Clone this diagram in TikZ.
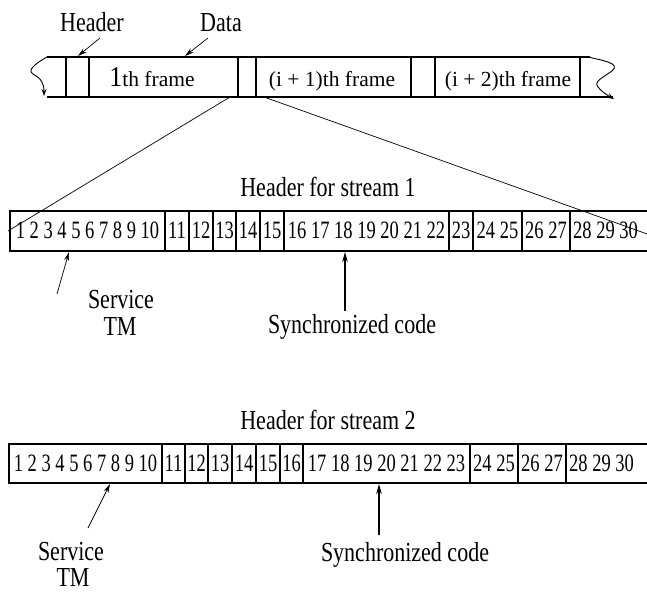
\documentclass[tikz,border=0pt]{standalone}
\usepackage{fontspec}
\setmainfont{Liberation Serif}
\usetikzlibrary{arrows.meta}
\newcommand\vsl[1]{\scalebox{1}[1.25]{#1}}
\newcommand\vsn[1]{\scalebox{1}[1.35]{#1}}
\begin{document}
\begin{tikzpicture}[x=1pt,y=-1pt,
  thick line/.style={line width=1.3pt},
  thin line/.style={line width=0.7pt},
  lbl/.style={font=\fontsize{22}{24}\selectfont, anchor=base, inner sep=0pt},
  num/.style={font=\fontsize{18.5}{20}\selectfont, anchor=base, inner sep=0pt},
  frm/.style={font=\fontsize{21.5}{23}\selectfont, anchor=base, inner sep=0pt},
  arr/.style={thin line, -{Stealth[length=9pt,width=5pt]}},
  arrb/.style={line width=1.1pt, -{Stealth[length=10pt,width=5.5pt]}}]
\clip (0,0) rectangle (647,592);
\useasboundingbox (0,0) rectangle (647,592);

% ---------- top frame strip ----------
\draw[thick line] (47,57) -- (590,57);
\draw[thick line] (47,97) -- (613,97);
\foreach \x in {66,89,238,256,411,435,580} \draw[thick line] (\x,57) -- (\x,97);
\draw[line width=0.9pt, -{Stealth[length=7pt,width=5pt]}] (47,57) .. controls (38,62) and (26,70) .. (33,74) .. controls (42,79) and (44,84) .. (44,96);
\draw[line width=0.9pt, -{Stealth[length=7pt,width=5pt]}] (588,57) .. controls (600,60) and (622,63) .. (612,71) .. controls (600,79) and (594,82) .. (598,87) .. controls (602,92) and (607,95) .. (614,99);

\node[frm] (f1) at (152,86) {{\fontsize{26}{28}\selectfont\scalebox{1}[1.1]{1}}th frame};
\node[frm] (f2) at (332,86) {(i + 1)th frame};
\node[frm] (f3) at (508,86) {(i + 2)th frame};

\node[lbl] (hdr) at (92,31) {\vsl{Header}};
\node[lbl] (dat) at (221,31) {\vsl{Data}};
\coordinate (hdrt) at (100,38);
\coordinate (hdrh) at (78,56);
\coordinate (datt) at (208,38);
\coordinate (dath) at (185,56);
\draw[arr] (hdrt) -- (hdrh);
\draw[arr] (datt) -- (dath);

% zoom lines
\coordinate (zl0) at (230,97);
\coordinate (zl1) at (8,231);
\coordinate (zr0) at (264,97);
\coordinate (zr1) at (650,235);
\draw[thin line] (zl0) -- (zl1);
\draw[thin line] (zr0) -- (zr1);

% ---------- stream 1 ----------
\node[lbl] (t1) at (328,196) {\vsl{Header for stream 1}};
\draw[thick line] (660,211) -- (10,211) -- (10,251) -- (660,251);
\foreach \x in {165,189,213,236,260,284,449,473,522,570} \draw[thick line] (\x,211) -- (\x,251);
\node[num] (a1) at (87.5,238) {\vsn{1 2 3 4 5 6 7 8 9 10}};
\node[num] (a2) at (177,238) {\vsn{11}};
\node[num] (a3) at (201,238) {\vsn{12}};
\node[num] (a4) at (224.5,238) {\vsn{13}};
\node[num] (a5) at (248,238) {\vsn{14}};
\node[num] (a6) at (272,238) {\vsn{15}};
\node[num] (a7) at (366.5,238) {\vsn{16 17 18 19 20 21 22}};
\node[num] (a8) at (461,238) {\vsn{23}};
\node[num] (a9) at (497.5,238) {\vsn{24 25}};
\node[num] (a10) at (546,238) {\vsn{26 27}};
\node[num, anchor=base west] (a11) at (573,238) {\vsn{28 29 30}};

\node[lbl] (s1) at (121,308) {\vsl{Service}};
\node[lbl] (m1) at (120,335) {\vsl{TM}};
\node[lbl] (c1) at (352,333) {\vsl{Synchronized code}};
\coordinate (s1t) at (57,294);
\coordinate (s1h) at (69,252);
\coordinate (c1t) at (345,311);
\coordinate (c1h) at (345,252);
\draw[arr] (s1t) -- (s1h);
\draw[arrb] (c1t) -- (c1h);

% ---------- stream 2 ----------
\node[lbl] (t2) at (328,429) {\vsl{Header for stream 2}};
\draw[thick line] (660,444) -- (9,444) -- (9,483) -- (660,483);
\foreach \x in {162,185,208,232,256,280,303,470,518,566} \draw[thick line] (\x,444) -- (\x,483);
\node[num] (b1) at (85.5,471) {\vsn{1 2 3 4 5 6 7 8 9 10}};
\node[num] (b2) at (173.5,471) {\vsn{11}};
\node[num] (b3) at (196.5,471) {\vsn{12}};
\node[num] (b4) at (220,471) {\vsn{13}};
\node[num] (b5) at (244,471) {\vsn{14}};
\node[num] (b6) at (268,471) {\vsn{15}};
\node[num] (b7) at (291.5,471) {\vsn{16}};
\node[num] (b8) at (386.5,471) {\vsn{17 18 19 20 21 22 23}};
\node[num] (b9) at (494,471) {\vsn{24 25}};
\node[num] (b10) at (542,471) {\vsn{26 27}};
\node[num, anchor=base west] (b11) at (569,471) {\vsn{28 29 30}};

\node[lbl] (s2) at (71,560) {\vsl{Service}};
\node[lbl] (m2) at (73,586) {\vsl{TM}};
\node[lbl] (c2) at (405,561) {\vsl{Synchronized code}};
\coordinate (s2t) at (88,528);
\coordinate (s2h) at (110,484);
\coordinate (c2t) at (379,535);
\coordinate (c2h) at (379,484);
\draw[arr] (s2t) -- (s2h);
\draw[arrb] (c2t) -- (c2h);
\end{tikzpicture}
\end{document}
